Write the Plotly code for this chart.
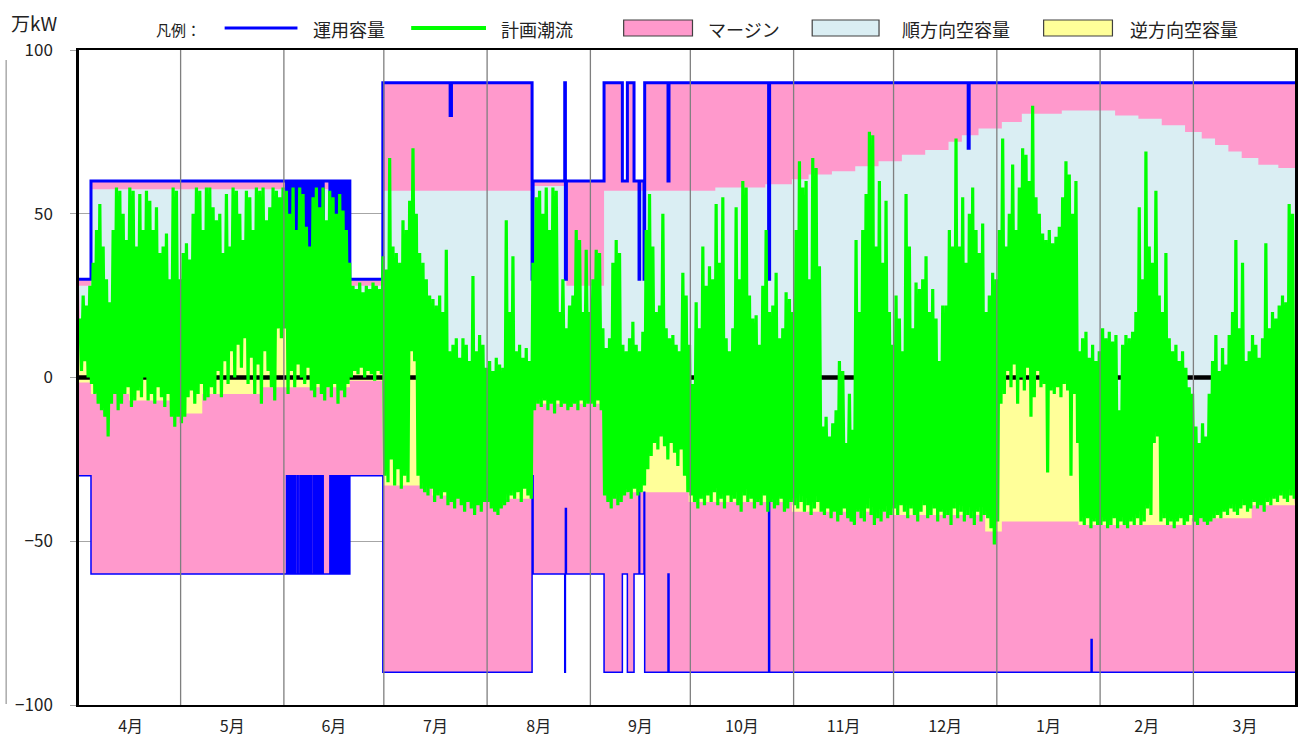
import plotly.graph_objects as go

# ---------------- data ----------------
month_labels = ["4月", "5月", "6月", "7月", "8月", "9月", "10月", "11月", "12月", "1月", "2月", "3月"]
month_lengths = [30, 31, 30, 31, 31, 30, 31, 30, 31, 31, 28, 31]

# daily maximum / minimum of the planned flow (万kW)
high_apr = [18, 25, 22, 28, 35, 45, 53, 40, 30, 23, 45, 58, 57, 50, 42, 58, 57, 40, 56, 45, 57, 54, 45, 52, 38, 40, 44, 30, 58, 57]
low_apr = [2, 5, 0, -2, -5, -8, -10, -12, -18, -8, -5, -10, -8, -5, -3, -9, -7, -4, -6, 0, -7, -5, -8, -3, -6, -9, -5, -12, -15, -12]
high_may = [30, 38, 41, 36, 50, 58, 57, 45, 58, 58, 52, 48, 50, 38, 56, 40, 58, 57, 50, 42, 57, 55, 45, 58, 57, 58, 48, 52, 58, 57, 55]
low_may = [-14, -12, -6, -4, -8, -5, -2, -7, -6, -3, -5, 2, -6, 5, -2, 8, 0, 10, 3, 12, -2, 6, -5, 4, -8, 8, 2, -3, -7, 15, 12]
high_jun = [58, 57, 50, 58, 45, 58, 56, 46, 40, 55, 58, 52, 58, 48, 57, 55, 50, 56, 51, 45, 35, 28, 27, 29, 26, 28, 27, 29, 28, 27]
low_jun = [15, -5, 2, -3, 4, 0, -2, 3, -4, -6, -2, -5, -7, -3, -6, -2, -8, -4, -6, -2, 0, 2, 1, 3, 0, 2, 1, -1, 2, 1]
high_jul = [37, 33, 67, 40, 38, 35, 48, 45, 54, 70, 50, 38, 35, 30, 25, 24, 22, 25, 20, 39, 8, 10, 12, 6, 12, 10, 5, 31, 8, 13, 10]
low_jul = [-30, -32, -25, -33, -28, -34, -30, -32, 8, 5, -30, -34, -35, -36, -34, -38, -36, -37, -35, -39, -38, -40, -37, -39, -41, -38, -40, -42, -39, -41, -38]
high_aug = [3, 5, 2, 6, 4, 3, 48, 20, 37, 8, 10, 6, 9, 5, 35, 55, 57, 50, 58, 45, 58, 57, 20, 30, 15, 22, 25, 45, 42, 20, 39]
low_aug = [-38, -40, -41, -42, -40, -39, -38, -36, -37, -35, -38, -34, -36, -37, -10, -8, -9, -7, -10, -8, -11, -7, -9, -8, -10, -9, -8, -10, -7, -9, -8]
high_sep = [20, 30, 39, 38, 15, 9, 12, 35, 42, 38, 10, 8, 12, 17, 10, 8, 14, 45, 56, 40, 20, 22, 50, 15, 12, 13, 10, 8, 32, 25]
low_sep = [-8, -9, -7, -10, -36, -38, -40, -37, -39, -38, -36, -35, -37, -34, -36, -35, -33, -28, -24, -20, -22, -18, -21, -25, -20, -23, -27, -22, -30, -35]
high_oct = [10, -2, 23, 15, 40, 28, 34, 30, 53, 35, 55, 12, 8, 15, 52, 30, 60, 58, 25, 18, 19, 10, 28, 45, 20, 22, 32, 12, 15, 26, 24]
low_oct = [-36, -38, -40, -37, -39, -36, -38, -35, -39, -37, -40, -36, -38, -37, -39, -41, -36, -38, -37, -40, -38, -39, -36, -41, -38, -40, -39, -37, -41, -40, -38]
high_nov = [20, 45, 66, 58, 60, 30, 67, 64, 34, -15, -12, -18, -14, -10, 5, 2, -20, -5, -16, 42, 20, 45, 56, 75, 74, 40, 60, 35, 54, 20]
low_nov = [-39, -40, -38, -41, -39, -42, -40, -38, -41, -42, -40, -43, -41, -44, -42, -40, -43, -44, -45, -41, -43, -44, -40, -42, -45, -43, -44, -41, -43, -42]
high_dec = [10, 25, 18, 8, 56, 40, 15, 29, 27, 30, 37, 20, 27, 18, 5, 22, 22, 45, 40, 73, 40, 55, 35, 50, 58, 45, 38, 47, 20, 25, 32]
low_dec = [-40, -42, -39, -41, -43, -40, -42, -44, -41, -39, -43, -42, -40, -44, -41, -43, -42, -45, -40, -43, -41, -44, -42, -43, -45, -41, -44, -42, -43, -46, -51]
high_jan = [30, 45, 73, 40, 50, 65, 45, 58, 70, 68, 60, 83, 55, 50, 44, 42, 45, 41, 43, 46, 55, 66, 62, 50, 60, 8, 12, 14, 6, 10, 5]
low_jan = [-44, -8, -5, 2, -3, 4, -8, 0, -4, 3, -12, -6, 2, -3, -2, -29, -4, -5, -3, -6, -2, -4, -30, -5, -20, -44, -45, -43, -46, -44, -45]
high_feb = [8, 15, 12, 14, 11, 13, -10, 10, 13, 12, 14, 20, 52, 30, 69, 40, 35, 57, 25, 20, 38, 12, 8, 10, 5, 8, 3, -3]
low_feb = [-45, -44, -46, -45, -43, -46, -44, -45, -46, -44, -45, -43, -45, -44, -40, -42, -20, -18, -44, -43, -45, -44, -46, -44, -43, -45, -44, -42]
high_mar = [-5, -15, -20, -14, -18, -5, 5, 13, 2, 9, 4, 13, 20, 42, 15, 35, 5, 8, 13, 10, 6, 12, 41, 15, 20, 18, 22, 25, 23, 53, 50]
low_mar = [-44, -45, -43, -44, -45, -44, -43, -42, -43, -41, -42, -40, -41, -42, -40, -39, -41, -40, -38, -40, -39, -41, -38, -39, -37, -38, -36, -37, -38, -36, -37]

# operating capacity (運用容量), step changes: start day -> value
cap_top_days = [0, 3.6, 81.3, 91.2, 111.4, 111.8, 136.0, 136.3, 145.8, 146.0, 146.3, 157.6, 163.1, 164.6,
                166.6, 168.1, 168.3, 169.6, 169.8, 176.8, 177.1, 207.0, 207.3, 266.9, 267.2]
cap_top_vals = [30, 60, 30, 90, 80, 90, 30, 60, 90, 30, 60, 90, 60, 90, 60, 30, 60, 30, 90, 60, 90, 30, 90, 70, 90]
cap_bot_days = [0, 3.6, 81.3, 91.2, 136.0, 136.3, 145.8, 146.0, 146.3, 157.6, 163.1, 164.6, 166.6, 168.1,
                168.3, 169.6, 169.8, 176.8, 177.1, 207.0, 207.3, 303.8, 304.1]
cap_bot_vals = [-30, -60, -30, -90, -30, -60, -90, -40, -60, -90, -60, -90, -60, -35, -60, -35, -90, -60, -90,
                -33, -90, -80, -90]
# short capacity reductions in June (start days, each ~0.3 day long)
june_dips = [62.3, 62.9, 63.5, 64.1, 64.7, 65.5, 66.3, 67.0, 67.6, 68.2, 68.8, 69.5, 70.3, 71.0, 71.6, 72.3,
             73.0, 75.3, 75.9, 76.5, 77.1, 77.7, 78.3, 79.0, 79.6, 80.2, 80.8]
june_dip_top = 30
june_dip_bot = -30

# limit of forward free capacity (top of 順方向空容量) and reverse (bottom of 逆方向空容量)
upper_days = [0, 3.6, 81.3, 91.2, 136.0, 146.3, 157.6, 191, 206, 214, 219, 226, 233, 240, 247, 254, 261, 265,
              270, 277, 283, 295, 311, 318, 325, 332, 337, 341, 345, 349, 354, 360]
upper_vals = [28, 57.5, 28, 57, 58.5, 28, 57, 58, 59, 60.5, 62, 63, 64.5, 66, 68, 69.5, 72, 74, 76, 78, 80.5,
              81.5, 80, 79, 77, 75, 73, 71, 69, 67, 65, 64]
lower_days = [0, 3.6, 15, 29, 37, 55, 81.3, 91.2, 106, 122, 136.0, 157.6, 183, 214, 244, 272, 277, 300, 334, 352]
lower_vals = [-1.5, -5, -7, -11, -5, -3, -1, -33, -36, -37, -8, -35, -38, -41, -42, -47, -44, -45, -43, -39]

# ---------------- build ----------------
flow_high = high_apr + high_may + high_jun + high_jul + high_aug + high_sep + high_oct + high_nov + high_dec + high_jan + high_feb + high_mar
flow_low = low_apr + low_may + low_jun + low_jul + low_aug + low_sep + low_oct + low_nov + low_dec + low_jan + low_feb + low_mar
N_DAYS = sum(month_lengths)

flow_x, flow_y = [], []
for d in range(N_DAYS):
    flow_x += [d + 0.25, d + 0.75]
    flow_y += [flow_high[d], flow_low[d]]


def merged(days, vals, dips, dip_val, dip_len, base_val):
    pts = list(zip(days, vals))
    for s in dips:
        pts.append((s, dip_val))
        pts.append((s + dip_len, base_val))
    pts.sort(key=lambda p: p[0])
    return [p[0] for p in pts], [p[1] for p in pts]


def step_xy(days, vals, end):
    xs, ys = [], []
    for i, (d, v) in enumerate(zip(days, vals)):
        e = days[i + 1] if i + 1 < len(days) else end
        xs += [d, e]
        ys += [v, v]
    return xs, ys


td, tv = merged(cap_top_days, cap_top_vals, june_dips, june_dip_top, 0.3, 60)
bd, bv = merged(cap_bot_days, cap_bot_vals, june_dips, june_dip_bot, 0.3, -60)
top_x, top_y = step_xy(td, tv, N_DAYS)
bot_x, bot_y = step_xy(bd, bv, N_DAYS)
up_x, up_y = step_xy(upper_days, upper_vals, N_DAYS)
lo_x, lo_y = step_xy(lower_days, lower_vals, N_DAYS)

PINK = "#FF99CC"
LBLUE = "#DAEEF3"
YELLOW = "#FFFF99"
BLUE = "#0000FF"
GREEN = "#00FF00"
FONT = "Noto Sans CJK JP"

fig = go.Figure()
# margin (pink) band between the capacity lines
fig.add_trace(go.Scatter(x=bot_x, y=bot_y, mode="lines", line=dict(width=0, color=PINK), hoverinfo="skip"))
fig.add_trace(go.Scatter(x=top_x, y=top_y, mode="lines", line=dict(width=0, color=PINK),
                         fill="tonexty", fillcolor=PINK, hoverinfo="skip"))
# forward free capacity: flow -> upper limit
fig.add_trace(go.Scatter(x=flow_x, y=flow_y, mode="lines", line=dict(width=0, color=LBLUE), hoverinfo="skip"))
fig.add_trace(go.Scatter(x=up_x, y=up_y, mode="lines", line=dict(width=0, color=LBLUE),
                         fill="tonexty", fillcolor=LBLUE, hoverinfo="skip"))
# reverse free capacity: lower limit -> flow
fig.add_trace(go.Scatter(x=flow_x, y=flow_y, mode="lines", line=dict(width=0, color=YELLOW), hoverinfo="skip"))
fig.add_trace(go.Scatter(x=lo_x, y=lo_y, mode="lines", line=dict(width=0, color=YELLOW),
                         fill="tonexty", fillcolor=YELLOW, hoverinfo="skip"))
# zero line
fig.add_trace(go.Scatter(x=[0, N_DAYS], y=[0, 0], mode="lines", line=dict(width=4.5, color="black"), hoverinfo="skip"))
# capacity lines
fig.add_trace(go.Scatter(x=top_x, y=top_y, mode="lines", line=dict(width=3, color=BLUE), hoverinfo="skip"))
fig.add_trace(go.Scatter(x=bot_x, y=bot_y, mode="lines", line=dict(width=1.5, color=BLUE), hoverinfo="skip"))
# planned flow
fig.add_trace(go.Scatter(x=flow_x, y=flow_y, mode="lines", line=dict(width=3.2, color=GREEN), hoverinfo="skip"))

# month boundaries / label positions
bounds = [0]
for m in month_lengths:
    bounds.append(bounds[-1] + m)
grid_pos = [b + 0.5 for b in bounds[1:-1]]
label_pos = [(bounds[i] + bounds[i + 1]) / 2 + 0.5 for i in range(len(month_lengths))]

shapes = []
for g in grid_pos:
    shapes.append(dict(type="line", xref="x", yref="y", x0=g, x1=g, y0=-100, y1=100,
                       line=dict(color="#7F7F7F", width=1.3), layer="above"))

L, R, T, B = 79, 5, 50, 37
W, H = 1303, 742
PW, PH = W - L - R, H - T - B


def px(xp):
    return (xp - L) / PW


def py(yp):
    return (H - B - yp) / PH


# grey rule at far left
shapes.append(dict(type="line", xref="paper", yref="paper", x0=px(6), x1=px(6), y0=py(60), y1=py(704),
                   line=dict(color="#AAAAAA", width=1.5)))

annotations = []
LEG_Y = 28
# legend
shapes.append(dict(type="line", xref="paper", yref="paper", x0=px(225), x1=px(298), y0=py(LEG_Y), y1=py(LEG_Y),
                   line=dict(color=BLUE, width=3)))
shapes.append(dict(type="line", xref="paper", yref="paper", x0=px(412), x1=px(487), y0=py(LEG_Y), y1=py(LEG_Y),
                   line=dict(color=GREEN, width=4)))
for (x0, x1, col) in [(625, 694, PINK), (814, 881, LBLUE), (1046, 1115, YELLOW)]:
    shapes.append(dict(type="rect", xref="paper", yref="paper", x0=px(x0), x1=px(x1), y0=py(LEG_Y + 8),
                       y1=py(LEG_Y - 8), fillcolor=col, line=dict(color="#404040", width=1.2)))
for (x0, txt, sz) in [(154, "凡例：", 15), (312, "運用容量", 18), (500, "計画潮流", 18), (708, "マージン", 18),
                      (902, "順方向空容量", 18), (1131, "逆方向空容量", 18)]:
    annotations.append(dict(xref="paper", yref="paper", x=px(x0), y=py(LEG_Y + 1), text=txt, showarrow=False,
                            xanchor="left", yanchor="middle", font=dict(family=FONT, size=sz, color="#222222")))
annotations.append(dict(xref="paper", yref="paper", x=px(9), y=py(22), text="万kW", showarrow=False,
                        xanchor="left", yanchor="middle", font=dict(family=FONT, size=19, color="#222222")))

fig.update_layout(
    width=W, height=H,
    margin=dict(l=L, r=R, t=T, b=B),
    paper_bgcolor="white", plot_bgcolor="white",
    showlegend=False,
    shapes=shapes, annotations=annotations,
    font=dict(family=FONT, color="#222222"),
)
fig.update_xaxes(range=[0, N_DAYS], tickvals=label_pos, ticktext=month_labels, ticks="", showgrid=False,
                 zeroline=False, showline=True, mirror=True, linecolor="black", linewidth=2,
                 tickfont=dict(family=FONT, size=16, color="#222222"), ticklabelstandoff=6)
fig.update_yaxes(range=[-100, 100], tickvals=[-100, -50, 0, 50, 100], showgrid=True, gridcolor="#A6A6A6",
                 gridwidth=1, zeroline=False, ticks="outside", ticklen=6, tickcolor="#A6A6A6",
                 showline=True, mirror=True, linecolor="black", linewidth=2.5,
                 tickfont=dict(family=FONT, size=17, color="#222222"), ticklabelstandoff=14)

fig.write_html("out.html", config={"displayModeBar": False},
               post_script="document.body.style.margin='0';")
